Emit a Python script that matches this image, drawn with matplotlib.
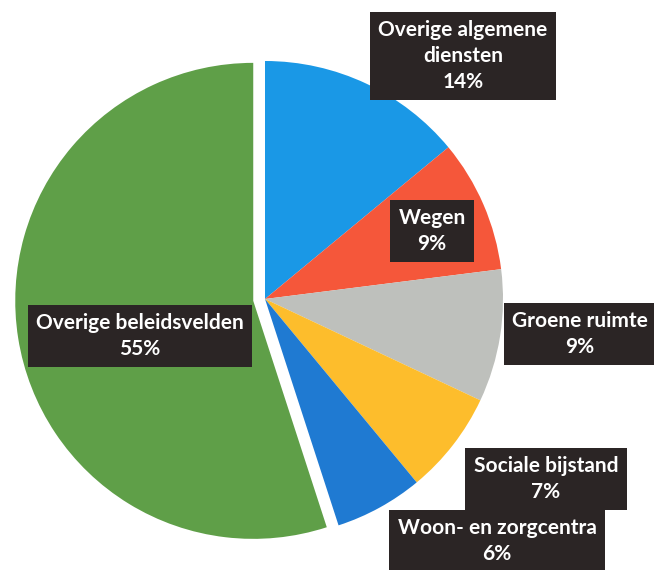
import matplotlib
matplotlib.use("Agg")
import matplotlib.pyplot as plt

categories = ["Overige algemene\ndiensten", "Wegen", "Groene ruimte",
              "Sociale bijstand", "Woon- en zorgcentra", "Overige beleidsvelden"]
values = [14, 9, 9, 7, 6, 55]
colors = ["#1A98E6", "#F5573A", "#BEC0BC", "#FDBD2C", "#1F7AD2", "#5F9F48"]
explode_frac = [0, 0, 0, 0, 0, 0.05]

# label box centres in pixel coordinates (x, y from top)
label_pos = [(463, 56), (432, 231), (580, 334), (546, 479), (497, 541), (140, 336)]

W, H = 654, 570
R = 238
fig = plt.figure(figsize=(W / 100, H / 100), dpi=100)
ax = fig.add_axes([0, 0, 1, 1])

ax.pie(values, colors=colors, explode=[e * R for e in explode_frac],
       startangle=90, counterclock=False,
       center=(265, H - 299), radius=R, wedgeprops=dict(linewidth=0),
       frame=True)
ax.set_xlim(0, W)
ax.set_ylim(0, H)
ax.set_aspect("equal")
ax.axis("off")

for cat, val, (px, py) in zip(categories, values, label_pos):
    ax.text(px, H - py, f"{cat}\n{val}%", ha="center", va="center",
            color="white", fontsize=15, fontweight="bold", family="Lato",
            linespacing=1.35,
            bbox=dict(boxstyle="square,pad=0.4", facecolor="#2B2525",
                      edgecolor="none"))

fig.savefig("out.png", dpi=100)
